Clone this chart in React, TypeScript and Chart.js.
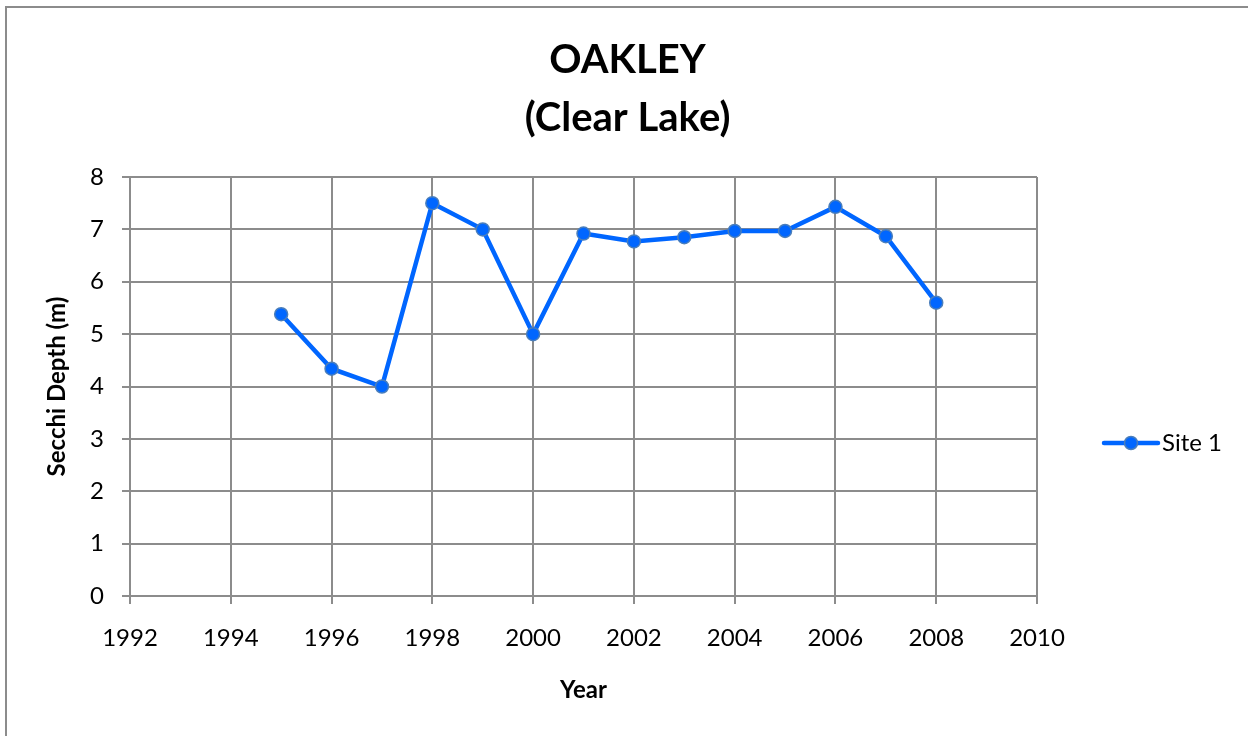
import React, { useEffect, useRef } from "react";
import { Chart, registerables } from "chart.js";

Chart.register(...registerables);

const years: number[] = [1995, 1996, 1997, 1998, 1999, 2000, 2001, 2002, 2003, 2004, 2005, 2006, 2007, 2008];
const site1: number[] = [5.38, 4.34, 4.0, 7.5, 7.0, 5.0, 6.92, 6.77, 6.85, 6.97, 6.97, 7.43, 6.87, 5.6];
const titleLines: string[] = ["OAKLEY", "(Clear Lake)"];
const seriesName = "Site 1";
const xTitle = "Year";
const yTitle = "Secchi Depth (m)";

const FONT = "Lato, 'Open Sans', sans-serif";
const LINE_BLUE = "#0066ff";
const POINT_BORDER = "#4a7ebb";
const GRID = "#8c8c8c";

const overlayPlugin = {
  id: "overlay",
  afterDraw(chart: any) {
    const ctx = chart.ctx;
    const area = chart.chartArea;
    ctx.save();
    // title
    ctx.fillStyle = "#000";
    ctx.textAlign = "center";
    ctx.textBaseline = "middle";
    ctx.font = `bold 40px ${FONT}`;
    const cx = (area.left + area.right) / 2 + 44;
    ctx.fillText(titleLines[0], cx, 60);
    ctx.fillText(titleLines[1], cx, 118);
    // legend
    const ly = 443;
    const lx0 = area.right + 67;
    ctx.strokeStyle = LINE_BLUE;
    ctx.lineWidth = 4.5;
    ctx.lineCap = "round";
    ctx.beginPath();
    ctx.moveTo(lx0, ly);
    ctx.lineTo(lx0 + 54, ly);
    ctx.stroke();
    ctx.beginPath();
    ctx.arc(lx0 + 27, ly, 6.5, 0, Math.PI * 2);
    ctx.fillStyle = LINE_BLUE;
    ctx.fill();
    ctx.lineWidth = 1.5;
    ctx.strokeStyle = POINT_BORDER;
    ctx.stroke();
    ctx.fillStyle = "#000";
    ctx.textAlign = "left";
    ctx.font = `24px ${FONT}`;
    ctx.fillText(seriesName, lx0 + 58, ly);
    ctx.restore();
  },
};

export default function App() {
  const ref = useRef<HTMLCanvasElement | null>(null);

  useEffect(() => {
    if (!ref.current) return;
    const chart = new Chart(ref.current, {
      type: "line",
      data: {
        datasets: [
          {
            label: seriesName,
            data: years.map((y, i) => ({ x: y, y: site1[i] })),
            borderColor: LINE_BLUE,
            backgroundColor: LINE_BLUE,
            borderWidth: 4.5,
            pointRadius: 6.5,
            pointHoverRadius: 6.5,
            pointBackgroundColor: LINE_BLUE,
            pointBorderColor: POINT_BORDER,
            pointBorderWidth: 1.5,
            tension: 0,
          },
        ],
      },
      options: {
        animation: false,
        responsive: false,
        maintainAspectRatio: false,
        layout: { padding: { top: 177, right: 211, bottom: 0, left: 40 } },
        plugins: {
          legend: { display: false },
          title: { display: false },
          tooltip: { enabled: false },
        },
        scales: {
          x: {
            type: "linear",
            min: 1992,
            max: 2010,
            afterFit: (s: any) => {
              s.height = 140;
            },
            ticks: {
              stepSize: 2,
              padding: 20,
              color: "#000",
              font: { family: FONT, size: 24 },
              callback: (v: any) => String(v),
            },
            grid: { color: GRID, lineWidth: 2, tickLength: 8, drawTicks: true },
            border: { color: GRID, width: 2 },
            title: {
              display: true,
              text: xTitle,
              color: "#000",
              font: { family: FONT, size: 24, weight: "bold" },
              padding: { top: 0, bottom: 31 },
            },
          },
          y: {
            type: "linear",
            min: 0,
            max: 8,
            afterFit: (s: any) => {
              s.width = 90;
            },
            ticks: {
              stepSize: 1,
              padding: 18,
              color: "#000",
              font: { family: FONT, size: 24 },
            },
            grid: { color: GRID, lineWidth: 2, tickLength: 8, drawTicks: true },
            border: { color: GRID, width: 2 },
            title: {
              display: true,
              text: yTitle,
              color: "#000",
              font: { family: FONT, size: 24, weight: "bold" },
              padding: { top: 3, bottom: 0 },
            },
          },
        },
      },
      plugins: [overlayPlugin],
    });
    return () => chart.destroy();
  }, []);

  return (
    <div style={{ position: "fixed", left: 0, top: 0, width: 1248, height: 736, background: "#fff", overflow: "hidden" }}>
      <div
        style={{
          position: "absolute",
          left: 5,
          top: 6,
          width: 1260,
          height: 760,
          border: "2px solid #8c8c8c",
          boxSizing: "border-box",
        }}
      />
      <canvas ref={ref} width={1248} height={736} style={{ position: "absolute", left: 0, top: 0 }} />
    </div>
  );
}
